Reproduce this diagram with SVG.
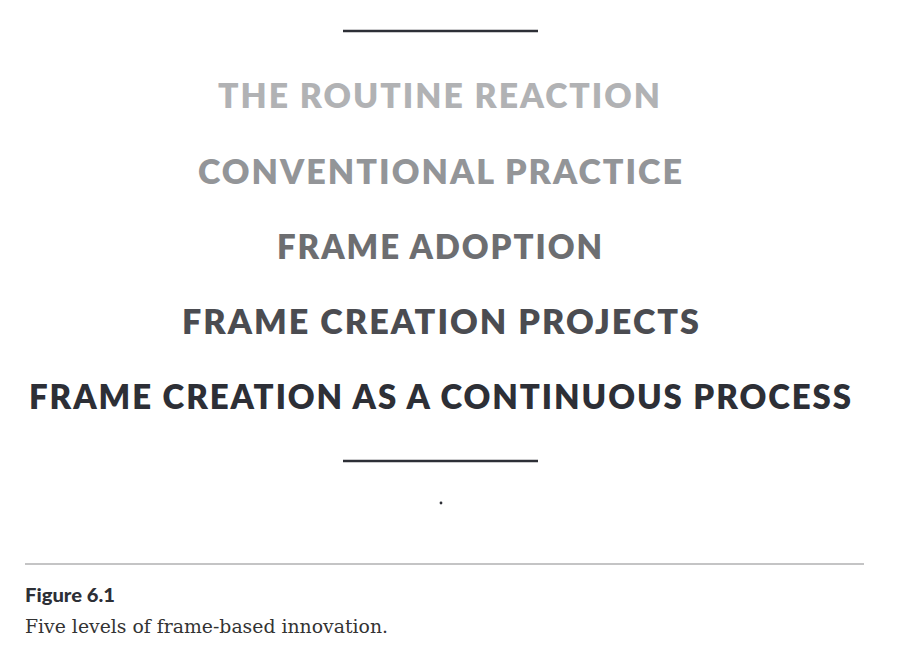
<svg xmlns="http://www.w3.org/2000/svg" width="908" height="652" viewBox="0 0 908 652">
<style>
.lvl{font-family:Lato,"Open Sans","Liberation Sans",sans-serif;font-weight:800;font-size:34px;letter-spacing:2px}
.rule{stroke:#2d2f36;stroke-width:2.5}
</style>
<rect width="908" height="652" fill="#ffffff"/>
<g id="rules">
<line class="rule" x1="343" y1="31" x2="538" y2="31"/>
<line class="rule" x1="343" y1="461" x2="538" y2="461"/>
<circle cx="441" cy="503" r="1.4" fill="#2d2f36"/>
</g>
<g id="level1"><text class="lvl" x="218" y="108" fill="#b1b2b4" textLength="444" lengthAdjust="spacingAndGlyphs">THE ROUTINE REACTION</text></g>
<g id="level2"><text class="lvl" x="198" y="184" fill="#939598" textLength="486" lengthAdjust="spacingAndGlyphs">CONVENTIONAL PRACTICE</text></g>
<g id="level3"><text class="lvl" x="277" y="259" fill="#6d6e71" textLength="327" lengthAdjust="spacingAndGlyphs">FRAME ADOPTION</text></g>
<g id="level4"><text class="lvl" x="182" y="334" fill="#4b4c51" textLength="519" lengthAdjust="spacingAndGlyphs">FRAME CREATION PROJECTS</text></g>
<g id="level5"><text class="lvl" x="29" y="409" fill="#2d2f36" textLength="824" lengthAdjust="spacingAndGlyphs">FRAME CREATION AS A CONTINUOUS PROCESS</text></g>
<g id="caption">
<line x1="25" y1="564" x2="864" y2="564" stroke="#8a8a8c" stroke-width="1.2"/>
<text x="25" y="602" font-family="Lato,'Liberation Sans',sans-serif" font-weight="900" font-size="18" fill="#2d2f36" textLength="90" lengthAdjust="spacingAndGlyphs">Figure 6.1</text>
<text x="25" y="633" font-family="'DejaVu Serif','Liberation Serif',serif" font-size="19" fill="#333333" textLength="363" lengthAdjust="spacingAndGlyphs">Five levels of frame-based innovation.</text>
</g>
</svg>
